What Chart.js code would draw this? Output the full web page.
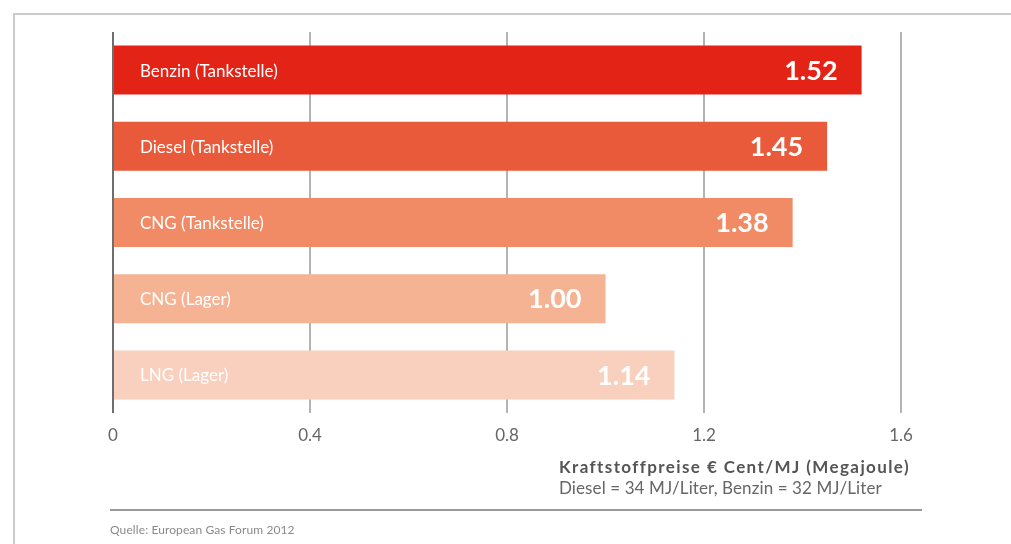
<!DOCTYPE html>
<html><head><meta charset="utf-8">
<script src="https://cdn.jsdelivr.net/npm/chart.js@4"></script>
<style>
html,body{margin:0;padding:0;background:#fff;width:1011px;height:544px;overflow:hidden;font-family:Lato,"Open Sans",sans-serif;}
#wrap{position:absolute;left:0;top:0;width:1011px;height:544px;}
#frame{position:absolute;left:13px;top:13px;width:1100px;height:600px;border-top:2px solid #cbcbcb;border-left:2px solid #cbcbcb;}
#t1{position:absolute;left:559px;top:456px;font-weight:bold;font-size:17px;letter-spacing:1.4px;color:#555;white-space:nowrap;}
#t2{position:absolute;left:559px;top:477px;font-size:17px;letter-spacing:0.1px;color:#666;white-space:nowrap;}
#rule{position:absolute;left:110px;top:509px;width:812px;height:0;border-top:2px solid #9a9a9a;}
#src{position:absolute;left:110px;top:522px;font-size:12px;letter-spacing:0.1px;color:#8a8a8a;white-space:nowrap;}
canvas{position:absolute;left:0;top:0;}
</style></head>
<body><div id="wrap">
<div id="frame"></div>
<canvas id="c" width="1011" height="544"></canvas>
<div id="t1">Kraftstoffpreise € Cent/MJ (Megajoule)</div>
<div id="t2">Diesel = 34 MJ/Liter, Benzin = 32 MJ/Liter</div>
<div id="rule"></div>
<div id="src">Quelle: European Gas Forum 2012</div>
</div>
<script>
const categories = ["Benzin (Tankstelle)", "Diesel (Tankstelle)", "CNG (Tankstelle)", "CNG (Lager)", "LNG (Lager)"];
const prices = [1.52, 1.45, 1.38, 1.00, 1.14];
const barColors = ["#e42317", "#e95a3b", "#f08b66", "#f5b394", "#f9cfbd"];
const tickValues = [0, 0.4, 0.8, 1.2, 1.6];

const labelPlugin = {
  id: 'barLabels',
  afterDatasetsDraw(chart) {
    const ctx = chart.ctx;
    const meta = chart.getDatasetMeta(0);
    ctx.save();
    ctx.fillStyle = '#ffffff';
    ctx.textBaseline = 'middle';
    meta.data.forEach((bar, i) => {
      ctx.font = '17px Lato, "Open Sans", sans-serif';
      ctx.textAlign = 'left';
      ctx.fillText(categories[i], bar.base + 26, bar.y + 1);
      ctx.font = 'bold 27px Lato, "Open Sans", sans-serif';
      ctx.textAlign = 'right';
      ctx.fillText(prices[i].toFixed(2), bar.x - 24, bar.y + 1);
    });
    ctx.restore();
  }
};

new Chart(document.getElementById('c'), {
  type: 'bar',
  data: {
    labels: categories,
    datasets: [{
      data: prices,
      backgroundColor: barColors,
      borderWidth: 0,
      categoryPercentage: 0.8,
      barPercentage: 0.804
    }]
  },
  options: {
    indexAxis: 'y',
    responsive: false,
    animation: false,
    layout: { padding: { left: 113, right: 110, top: 32, bottom: 91 } },
    plugins: { legend: { display: false }, tooltip: { enabled: false } },
    scales: {
      x: {
        min: 0, max: 1.6,
        afterBuildTicks(scale) { scale.ticks = tickValues.map(v => ({ value: v })); },
        afterFit(scale) { scale.height = 40; },
        border: { display: false },
        grid: {
          drawTicks: false,
          lineWidth: 2,
          color: (c) => (c.tick && c.tick.value === 0) ? '#6e6e6e' : '#b3b3b3'
        },
        ticks: {
          padding: 12,
          color: '#666',
          font: { family: 'Lato, "Open Sans", sans-serif', size: 17 },
          callback: (v) => String(v)
        }
      },
      y: { display: false }
    }
  },
  plugins: [labelPlugin]
});
</script>
</body></html>
